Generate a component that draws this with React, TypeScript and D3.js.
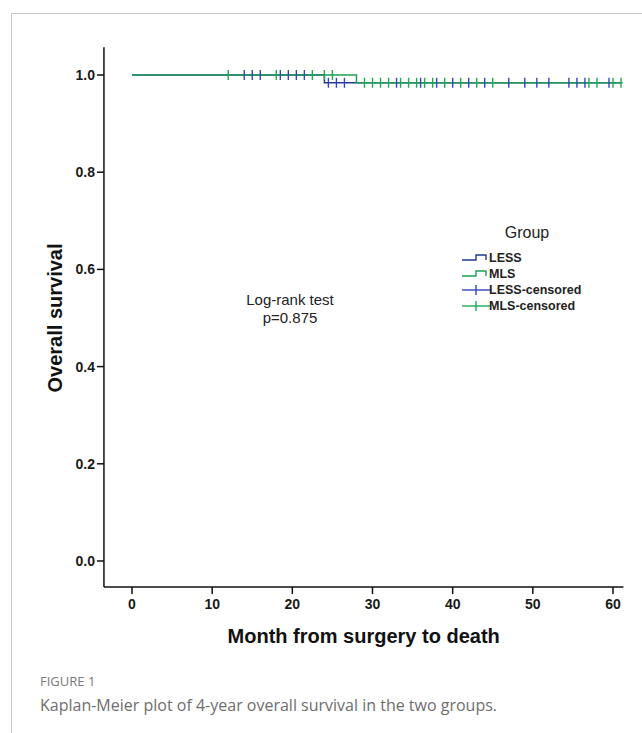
import * as d3 from 'd3'

// survival steps (month, survival)
const lessSteps: [number, number][] = [[0, 1], [24, 1], [24, 0.984], [61, 0.984]]
const mlsSteps: [number, number][] = [[0, 1], [28, 1], [28, 0.984], [61.2, 0.984]]

// censored observations
const lessCensoredTop = [14, 15, 16, 18.5, 19.5, 20.5, 21.5]
const lessCensoredLow = [24.5, 25.5, 26.5, 33, 36, 38, 40, 42, 44, 47, 49, 50.5, 52, 54.5, 55.5, 56.5, 59.5]
const mlsCensoredTop = [12, 18, 22.5, 24, 25]
const mlsCensoredLow = [29, 30, 31, 32, 33.5, 34.5, 35.5, 36.5, 37.5, 39, 41, 43, 45, 57, 58, 60, 61]

const xTicks = [0, 10, 20, 30, 40, 50, 60]
const yTicks = [0, 0.2, 0.4, 0.6, 0.8, 1.0]
const legendItems = ['LESS', 'MLS', 'LESS-censored', 'MLS-censored']

const LESS_COLOR = '#24398f'
const LESS_CENS = '#3347b5'
const MLS_COLOR = '#1f9e5a'
const MLS_CENS = '#22a653'

export default function App() {
  const W = 642
  const H = 733
  const x = d3.scaleLinear().domain([0, 60]).range([132, 613])
  const y = d3.scaleLinear().domain([0, 1]).range([561, 75])

  const axisX0 = x(-3.5)
  const axisX1 = x(61.3)
  const axisYTop = y(1.057)
  const axisYBottom = 587

  const stepLine = d3.line<[number, number]>().x(d => x(d[0])).y(d => y(d[1]))
  const font = "'Liberation Sans', Arial, sans-serif"

  const censor = (t: number, s: number, color: string, key: string) => (
    <line key={key} x1={x(t)} x2={x(t)} y1={y(s) - 5} y2={y(s) + 5} stroke={color} strokeWidth={1.4} />
  )

  return (
    <svg width={W} height={H} style={{ position: 'absolute', left: 0, top: 0, background: '#fff' }}>
      {/* figure frame */}
      <line x1={11} x2={W} y1={13.5} y2={13.5} stroke="#c8c8c8" />
      <line x1={11.5} x2={11.5} y1={13} y2={H} stroke="#c8c8c8" />

      {/* axes */}
      <line x1={axisX0} x2={axisX0} y1={axisYTop} y2={axisYBottom} stroke="#111" strokeWidth={1.5} />
      <line x1={axisX0} x2={axisX1} y1={axisYBottom} y2={axisYBottom} stroke="#111" strokeWidth={1.5} />
      {yTicks.map(t => (
        <g key={t}>
          <line x1={axisX0 - 7} x2={axisX0} y1={y(t)} y2={y(t)} stroke="#111" strokeWidth={1.5} />
          <text x={axisX0 - 9} y={y(t)} dy="0.35em" textAnchor="end" fontFamily={font} fontWeight="bold" fontSize={14} fill="#1a1a1a">
            {t.toFixed(1)}
          </text>
        </g>
      ))}
      {xTicks.map(t => (
        <g key={t}>
          <line x1={x(t)} x2={x(t)} y1={axisYBottom} y2={axisYBottom + 7} stroke="#111" strokeWidth={1.5} />
          <text x={x(t)} y={axisYBottom + 22} textAnchor="middle" fontFamily={font} fontWeight="bold" fontSize={14} fill="#1a1a1a">
            {t}
          </text>
        </g>
      ))}
      <text x={(axisX0 + axisX1) / 2} y={643} textAnchor="middle" fontFamily={font} fontWeight="bold" fontSize={20} fill="#111">
        Month from surgery to death
      </text>
      <text transform={`translate(62,${(y(0) + y(1)) / 2}) rotate(-90)`} textAnchor="middle" fontFamily={font} fontWeight="bold" fontSize={20} fill="#111">
        Overall survival
      </text>

      {/* curves */}
      <path d={stepLine(lessSteps) ?? ''} fill="none" stroke={LESS_COLOR} strokeWidth={1.5} />
      <path d={stepLine(mlsSteps) ?? ''} fill="none" stroke={MLS_COLOR} strokeWidth={1.5} />
      {lessCensoredTop.map((t, i) => censor(t, 1, LESS_CENS, 'lt' + i))}
      {lessCensoredLow.map((t, i) => censor(t, 0.984, LESS_CENS, 'll' + i))}
      {mlsCensoredTop.map((t, i) => censor(t, 1, MLS_CENS, 'mt' + i))}
      {mlsCensoredLow.map((t, i) => censor(t, 0.984, MLS_CENS, 'ml' + i))}

      {/* annotation */}
      <text x={290} y={305} textAnchor="middle" fontFamily={font} fontSize={15} fill="#222">Log-rank test</text>
      <text x={290} y={323} textAnchor="middle" fontFamily={font} fontSize={15} fill="#222">p=0.875</text>

      {/* legend */}
      <text x={527} y={238} textAnchor="middle" fontFamily={font} fontSize={16} fill="#222">Group</text>
      {legendItems.map((name, i) => {
        const ly = [258, 274, 290, 306][i]
        const color = [LESS_COLOR, MLS_COLOR, LESS_CENS, MLS_CENS][i]
        return (
          <g key={name}>
            {i < 2 ? (
              <path d={`M462,${ly + 2}H476V${ly - 3}H486V${ly + 2}`} fill="none" stroke={color} strokeWidth={1.4} />
            ) : (
              <g>
                <line x1={462} x2={490} y1={ly} y2={ly} stroke={color} strokeWidth={1.4} />
                <line x1={476} x2={476} y1={ly - 5} y2={ly + 5} stroke={color} strokeWidth={1.4} />
              </g>
            )}
            <text x={489} y={ly} dy="0.35em" fontFamily={font} fontWeight="bold" fontSize={12.5} fill="#222">{name}</text>
          </g>
        )
      })}

      {/* caption */}
      <text x={40} y={686} fontFamily="'Open Sans', sans-serif" fontSize={13} fill="#7a7a7a">FIGURE 1</text>
      <text x={40} y={711} fontFamily="'Open Sans', sans-serif" fontSize={16} fill="#6e6e6e">
        Kaplan-Meier plot of 4-year overall survival in the two groups.
      </text>
    </svg>
  )
}
